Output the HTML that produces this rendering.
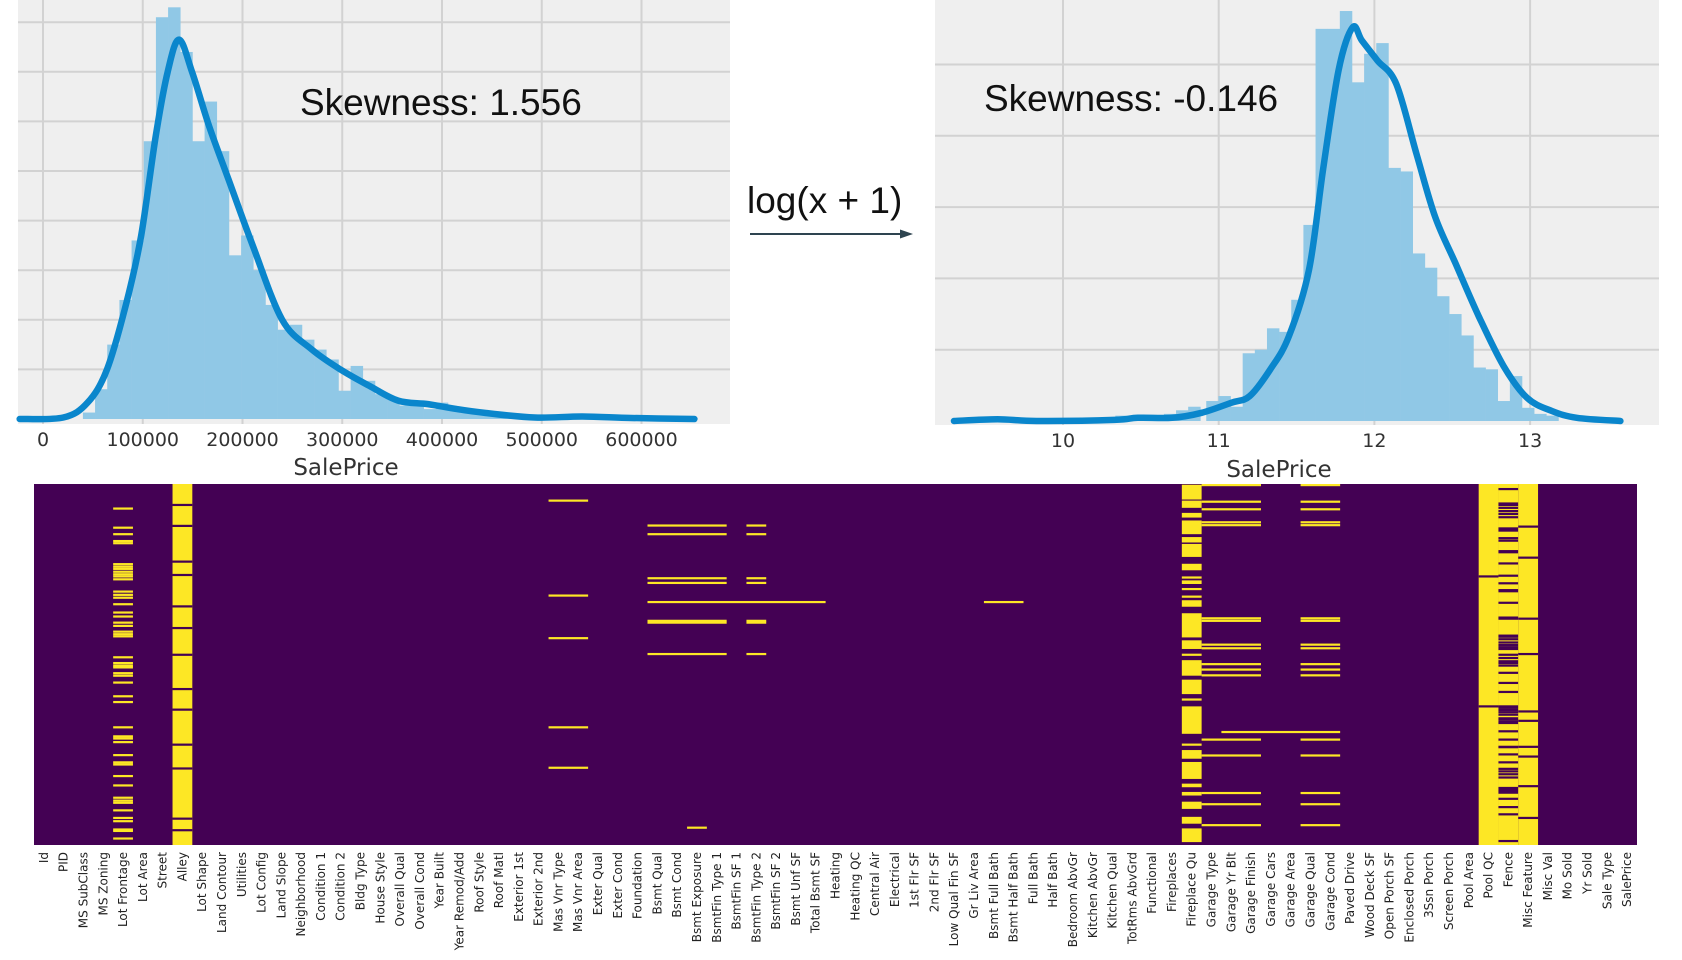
<!DOCTYPE html>
<html><head><meta charset="utf-8"><style>
html,body{margin:0;padding:0;background:#fff;width:1682px;height:960px;overflow:hidden}
svg{display:block}
</style></head><body>
<svg id="root" width="1682" height="960" xmlns="http://www.w3.org/2000/svg">
<g id="left"></g>
<g id="right"></g>
<g id="mid">
<text x="747" y="213" font-family="Liberation Sans, sans-serif" font-size="37" fill="#111">log(x + 1)</text>
<line x1="750" y1="234" x2="905" y2="234" stroke="#2e4450" stroke-width="2"/>
<polygon points="913,234 900,229.5 900,238.5" fill="#2e4450"/>
</g>
<g id="heat"></g>
</svg>
<script>
// ---------- left histogram data (SalePrice, density x1e-6) ----------
const leftBinStart = 40000;
const leftBinWidth = 12200;
const leftBins = [0.13,0.6,1.5,2.4,3.6,5.6,8.1,8.3,7.4,5.6,6.4,5.4,3.3,3.7,3.0,2.3,1.8,1.9,1.6,1.4,1.2,0.57,1.07,0.77,0.5,0.4,0.27,0.37,0.2,0.33,0.17,0.12,0.1,0.08,0.06,0.05,0.05,0.04,0.04,0.03,0.03,0.05,0.04,0.03,0.02,0.03,0.02,0.02,0.02,0.01];
const leftKdeX = [-23400,20400,44700,64200,83700,98400,113000,125000,136300,149400,166600,186000,210400,239800,269000,298000,327000,356000,386000,415000,444000,493000,541000,590000,653000];
const leftKdeY = [0,0.03,0.33,1.0,2.35,3.7,5.7,7.0,7.65,7.0,5.9,4.83,3.49,2.0,1.41,1.0,0.67,0.37,0.30,0.2,0.12,0.03,0.05,0.02,0];
const leftTicks = [0,100000,200000,300000,400000,500000,600000];
const leftGrid = [1,2,3,4,5,6,7,8];
// ---------- right histogram data (log SalePrice, density) ----------
const rightBinStart = 10.92;
const rightBinWidth = 0.078;
const rightBins = [0.056,0.07,0.04,0.19,0.2,0.26,0.25,0.34,0.55,1.1,1.1,1.15,0.95,1.03,1.06,0.71,0.70,0.47,0.43,0.35,0.30,0.24,0.15,0.145,0.056,0.126,0.037,0.02,0.015];
const rightSmallStart = 9.4;
const rightSmall = [0.01,0.005,0,0,0,0,0,0,0,0.005,0.005,0.01,0.015,0.01,0.01,0.015,0.02,0.03,0.04];
const rightKdeX = [9.30,9.58,9.83,10.33,10.48,10.70,10.89,11.08,11.20,11.33,11.45,11.58,11.67,11.77,11.86,11.92,12.02,12.14,12.27,12.39,12.52,12.67,12.83,12.98,13.14,13.30,13.58];
const rightKdeY = [0,0.005,0,0.003,0.009,0.009,0.023,0.051,0.070,0.144,0.237,0.424,0.704,0.984,1.104,1.067,1.011,0.946,0.750,0.573,0.443,0.294,0.154,0.065,0.028,0.009,0];
const rightTicks = [10,11,12,13];
const rightGrid = [0.2,0.4,0.6,0.8,1.0];
// ---------- heatmap data ----------
const columns = ["Id","PID","MS SubClass","MS Zoning","Lot Frontage","Lot Area","Street","Alley","Lot Shape","Land Contour","Utilities","Lot Config","Land Slope","Neighborhood","Condition 1","Condition 2","Bldg Type","House Style","Overall Qual","Overall Cond","Year Built","Year Remod/Add","Roof Style","Roof Matl","Exterior 1st","Exterior 2nd","Mas Vnr Type","Mas Vnr Area","Exter Qual","Exter Cond","Foundation","Bsmt Qual","Bsmt Cond","Bsmt Exposure","BsmtFin Type 1","BsmtFin SF 1","BsmtFin Type 2","BsmtFin SF 2","Bsmt Unf SF","Total Bsmt SF","Heating","Heating QC","Central Air","Electrical","1st Flr SF","2nd Flr SF","Low Qual Fin SF","Gr Liv Area","Bsmt Full Bath","Bsmt Half Bath","Full Bath","Half Bath","Bedroom AbvGr","Kitchen AbvGr","Kitchen Qual","TotRms AbvGrd","Functional","Fireplaces","Fireplace Qu","Garage Type","Garage Yr Blt","Garage Finish","Garage Cars","Garage Area","Garage Qual","Garage Cond","Paved Drive","Wood Deck SF","Open Porch SF","Enclosed Porch","3Ssn Porch","Screen Porch","Pool Area","Pool QC","Fence","Misc Feature","Misc Val","Mo Sold","Yr Sold","Sale Type","SalePrice"];
const nRows = 1000;
const lotFrontageMissing = [65,118,136,155,161,219,226,232,240,247,253,261,295,304,312,330,353,364,381,390,406,413,419,477,493,500,505,521,528,547,585,601,671,696,702,712,748,768,774,806,832,866,874,880,901,922,931,954,958,979];
const alleyPresent = [55,113,212,249,336,396,470,565,622,719,785,924,956];
const masVnrMissing = [43,306,424,671,783];
const bsmtMissing = [112,136,258,271,376,381,468];
const bsmtSingleRow = [324];
const bsmtExposureExtra = [949];
const fireplaceSegments = [[2,42],[46,65],[80,92],[101,138],[147,161],[166,201],[221,238],[256,260],[267,276],[288,290],[309,313],[322,339],[358,424],[433,456],[470,470],[488,530],[542,581],[594,594],[616,691],[719,719],[737,760],[770,816],[830,839],[853,862],[880,899],[922,940],[954,991]];
const garageMissing = [0,46,67,103,111,369,376,442,452,496,511,527,705,749,853,884,942];
const garageSingleRow = [684];
const poolPresent = [253,613];
const fencePresent = [11,51,55,63,72,80,89,120,126,147,154,183,186,217,251,272,291,294,326,367,370,417,420,427,436,443,449,454,470,479,488,493,500,520,548,573,613,617,623,629,636,646,650,656,659,682,705,725,726,746,768,786,793,801,810,839,844,848,852,869,892,912,986];
const miscPresent = [115,201,370,468,627,653,725,752,834,922];

const NS = "http://www.w3.org/2000/svg";
function mk(tag, attrs, parent){const e=document.createElementNS(NS,tag);for(const k in attrs)e.setAttribute(k,attrs[k]);parent.appendChild(e);return e;}

function smoothPath(p){
  let d = "M"+p[0][0].toFixed(1)+","+p[0][1].toFixed(1);
  for(let i=0;i<p.length-1;i++){
    const p0=p[i-1]||p[i], p1=p[i], p2=p[i+1], p3=p[i+2]||p[i+1];
    const c1x=p1[0]+(p2[0]-p0[0])/6, c1y=p1[1]+(p2[1]-p0[1])/6;
    const c2x=p2[0]-(p3[0]-p1[0])/6, c2y=p2[1]-(p3[1]-p1[1])/6;
    d+=" C"+c1x.toFixed(1)+","+c1y.toFixed(1)+" "+c2x.toFixed(1)+","+c2y.toFixed(1)+" "+p2[0].toFixed(1)+","+p2[1].toFixed(1);
  }
  return d;
}

function drawHist(g, P, d){
  const bg = mk("rect",{x:P.x0,y:P.y0,width:P.x1-P.x0,height:P.y1-P.y0,fill:"#efefef"},g);
  
  
  const xs = v => P.xa + (v - P.va) * P.kx;
  const ys = v => P.base - v * P.ky;
  d.grid.forEach(v=>{
    const l = mk("line",{x1:P.x0,x2:P.x1,y1:ys(v),y2:ys(v),stroke:"#d2d2d2","stroke-width":2},g);
    
    
  });
  d.ticks.forEach(v=>{
    const l = mk("line",{x1:xs(v),x2:xs(v),y1:P.y0,y2:P.y1,stroke:"#d2d2d2","stroke-width":2},g);
    
    
    const t = mk("text",{x:xs(v),y:P.tickY,"text-anchor":"middle","font-family":"DejaVu Sans, sans-serif","font-size":P.tickFs,fill:"#333"},g);
    t.textContent = d.tickLabel(v);
    
    
  });
  const addBars = (list,start,width)=>list.forEach((h,i)=>{
    if(h<=0) return;
    const x = xs(start + i*width), w = xs(start+(i+1)*width)-x;
    const r = mk("rect",{x:x,y:ys(h),width:w+0.3,height:P.base-ys(h),fill:"#90c8e6"},g);
    
    
  });
  d.barSets.forEach(s=>addBars(s.list,s.start,s.width));
  const pts = d.kx.map((v,i)=>[xs(v),ys(d.ky[i])]);
  const pl = mk("path",{d:smoothPath(pts),fill:"none",stroke:"#0a86cc","stroke-width":6.5,"stroke-linejoin":"round","stroke-linecap":"round"},g);
  
  
  const xl = mk("text",{x:P.labelX,y:P.labelY,"text-anchor":"middle","font-family":"DejaVu Sans, sans-serif","font-size":23,fill:"#333"},g);
  xl.textContent = "SalePrice";
  
  
  const sk = mk("text",{x:P.skX,y:P.skY,"font-family":"Liberation Sans, sans-serif","font-size":37,fill:"#111"},g);
  sk.textContent = P.skText;
  
  
}

drawHist(document.getElementById("left"),
  {x0:18,x1:730,y0:0,y1:424,xa:43,va:0,kx:598.5/600000,base:419,ky:49.6,tickY:446,tickFs:19,labelX:346,labelY:475,skX:300,skY:115,skText:"Skewness: 1.556"},
  {grid:leftGrid,ticks:leftTicks,tickLabel:v=>String(v),kx:leftKdeX,ky:leftKdeY,barSets:[{list:leftBins,start:leftBinStart,width:leftBinWidth}]});
drawHist(document.getElementById("right"),
  {x0:935,x1:1659,y0:0,y1:425,xa:1063,va:10,kx:155.7,base:421,ky:356.5,tickY:447,tickFs:19,labelX:1279,labelY:477,skX:984,skY:111,skText:"Skewness: -0.146"},
  {grid:rightGrid,ticks:rightTicks,tickLabel:v=>String(v),kx:rightKdeX,ky:rightKdeY,barSets:[{list:rightSmall,start:rightSmallStart,width:rightBinWidth},{list:rightBins,start:rightBinStart,width:rightBinWidth}]});

// heatmap
(function(){
  const g = document.getElementById("heat");
  const HX = 34, HY = 484, HW = 1603, HH = 361;
  const cw = HW / columns.length;
  const PUR = "#440154", YEL = "#fde725";
  const bg = mk("rect",{x:HX,y:HY,width:HW,height:HH,fill:PUR},g);
  
  
  const colX = c => HX + c*cw;
  const rowY = r => HY + r/nRows*HH;
  const ci = name => columns.indexOf(name);
  function cell(c0, c1, r0, r1, color){
    const y = rowY(r0), h = Math.max(rowY(r1+1)-y, 2.2);
    const e = mk("rect",{x:colX(c0),y:y,width:colX(c1+1)-colX(c0),height:h,fill:color},g);
    
    
  }
  function fullCol(c){
    const e = mk("rect",{x:colX(c),y:HY,width:cw,height:HH,fill:YEL},g);
    
    
  }
  lotFrontageMissing.forEach(r=>cell(ci("Lot Frontage"),ci("Lot Frontage"),r,r,YEL));
  fullCol(ci("Alley")); alleyPresent.forEach(r=>cell(ci("Alley"),ci("Alley"),r,r,PUR));
  masVnrMissing.forEach(r=>cell(ci("Mas Vnr Type"),ci("Mas Vnr Area"),r,r,YEL));
  bsmtMissing.forEach(r=>{cell(ci("Bsmt Qual"),ci("BsmtFin Type 1"),r,r,YEL);cell(ci("BsmtFin Type 2"),ci("BsmtFin Type 2"),r,r,YEL);});
  bsmtSingleRow.forEach(r=>{cell(ci("Bsmt Qual"),ci("Total Bsmt SF"),r,r,YEL);cell(ci("Bsmt Full Bath"),ci("Bsmt Half Bath"),r,r,YEL);});
  bsmtExposureExtra.forEach(r=>cell(ci("Bsmt Exposure"),ci("Bsmt Exposure"),r,r,YEL));
  fireplaceSegments.forEach(s=>cell(ci("Fireplace Qu"),ci("Fireplace Qu"),s[0],s[1],YEL));
  garageMissing.forEach(r=>{cell(ci("Garage Type"),ci("Garage Finish"),r,r,YEL);cell(ci("Garage Qual"),ci("Garage Cond"),r,r,YEL);});
  garageSingleRow.forEach(r=>cell(ci("Garage Yr Blt"),ci("Garage Cond"),r,r,YEL));
  fullCol(ci("Pool QC")); poolPresent.forEach(r=>cell(ci("Pool QC"),ci("Pool QC"),r,r,PUR));
  fullCol(ci("Fence")); fencePresent.forEach(r=>cell(ci("Fence"),ci("Fence"),r,r,PUR));
  fullCol(ci("Misc Feature")); miscPresent.forEach(r=>cell(ci("Misc Feature"),ci("Misc Feature"),r,r,PUR));
  columns.forEach((name,c)=>{
    const cx = colX(c)+cw/2+4, ty = HY+HH+7;
    const t = mk("text",{x:cx,y:ty,"text-anchor":"end",transform:"rotate(-90 "+cx+" "+ty+")","font-family":"DejaVu Sans, sans-serif","font-size":12,fill:"#222"},g);
    t.textContent = name;
    
    
  });
})();
</script>
</body></html>
